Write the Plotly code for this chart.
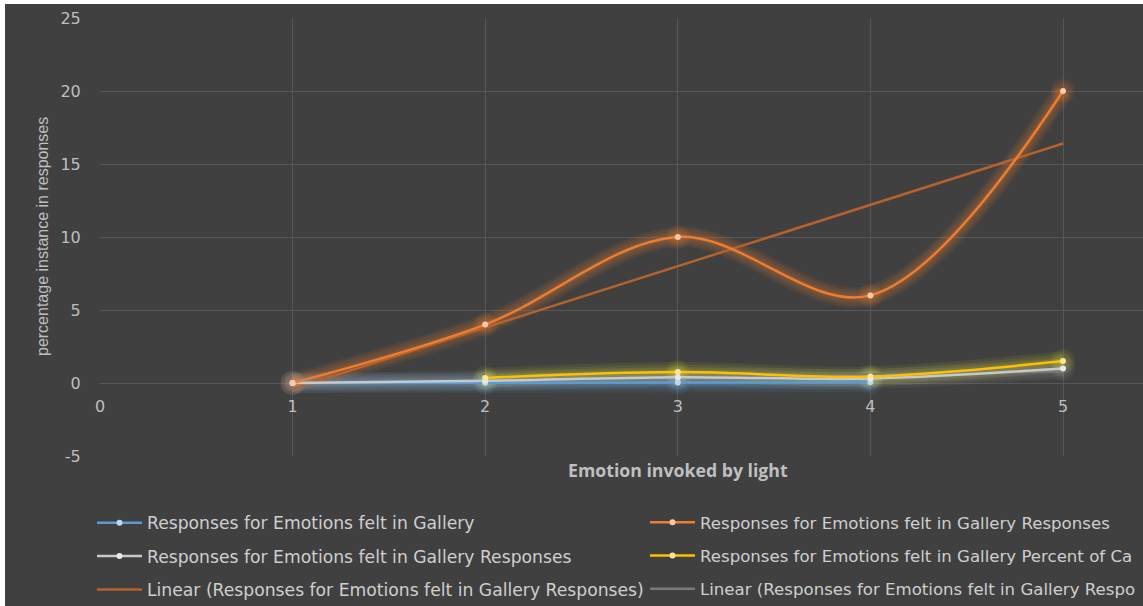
import numpy as np
import plotly.graph_objects as go

# ---- data -------------------------------------------------------------
x_all = [1, 2, 3, 4, 5]
x_blue = [1, 2, 3, 4]
x_yellow = [2, 3, 4, 5]

gallery = [0.0, 0.02, 0.03, 0.05]                 # Responses for Emotions felt in Gallery
gallery_responses = [0, 4, 10, 6, 20]              # ... Gallery Responses (orange)
gallery_responses_b = [0.0, 0.15, 0.4, 0.3, 1.0]   # ... Gallery Responses (grey)
gallery_percent = [0.35, 0.75, 0.45, 1.5]          # ... Gallery Percent of Ca...

x_ticks = [0, 1, 2, 3, 4, 5]
y_ticks = [-5, 0, 5, 10, 15, 20, 25]

# legend labels (the right-hand column runs off the edge of the chart)
names = [
    "Responses for Emotions felt in Gallery",
    "Responses for Emotions felt in Gallery Responses",
    "Responses for Emotions felt in Gallery Responses",
    "Responses for Emotions felt in Gallery Percent of Ca",
    "Linear (Responses for Emotions felt in Gallery Responses)",
    "Linear (Responses for Emotions felt in Gallery Respo",
]

# ---- styling ------------------------------------------------------------
BG = "#404040"
GRID = "#575757"
TXT = "#bfbfbf"
LEG = "#cfcfcf"
FONT = "Open Sans"
WIDE = "DejaVu Sans"

BLUE = (91, 155, 213)
ORANGE = (237, 125, 49)
GREY = (200, 200, 200)
YELLOW = (255, 192, 0)
ORANGE_TR = "#b5622d"
GREY_TR = "#7a7a7a"


def rgba(c, a):
    return f"rgba({c[0]},{c[1]},{c[2]},{a})"


def tint(c, f):
    return rgba(tuple(int(v + (255 - v) * f) for v in c), 1)


fig = go.Figure()


def glow(x, y, col, glow_col=None, strength=0.1):
    gc = glow_col or col
    for w in (20, 15, 10, 6):
        fig.add_trace(go.Scatter(
            x=x, y=y, mode="lines", line=dict(color=rgba(gc, strength), width=w, shape="spline", smoothing=1),
            showlegend=False, hoverinfo="skip"))
    for s in (24, 18, 13):
        fig.add_trace(go.Scatter(
            x=x, y=y, mode="markers", marker=dict(color=rgba(gc, strength), size=s, line=dict(width=0)),
            showlegend=False, hoverinfo="skip"))


def series(x, y, col, name, legend, rank):
    fig.add_trace(go.Scatter(
        x=x, y=y, name=name, mode="lines+markers", legend=legend, legendgroup=f"{legend}-{rank}",
        legendrank=rank,
        line=dict(color=rgba(col, 1), width=2.5, shape="spline", smoothing=1),
        marker=dict(color=tint(col, 0.6), size=6, line=dict(width=0)),
    ))


def trend(x, y, col, name, legend, rank):
    k, b = np.polyfit(np.array(x, float), np.array(y, float), 1)
    xs = np.array([x[0], x[-1]], float)
    fig.add_trace(go.Scatter(
        x=xs, y=k * xs + b, name=name, mode="lines", legend=legend, legendgroup=f"{legend}-{rank}",
        legendrank=rank,
        line=dict(color=col, width=2.5),
    ))


# glows underneath everything
glow(x_blue, gallery, BLUE)
glow(x_all, gallery_responses_b, GREY, strength=0.07)
glow(x_yellow, gallery_percent, YELLOW, glow_col=(210, 210, 40), strength=0.09)
glow(x_all, gallery_responses, ORANGE, strength=0.1)

# trend lines
trend(x_all, gallery_responses, ORANGE_TR, names[4], "legend", 3)
trend(x_all, gallery_responses_b, GREY_TR, names[5], "legend2", 3)

# series
series(x_blue, gallery, BLUE, names[0], "legend", 1)
series(x_all, gallery_responses_b, GREY, names[2], "legend", 2)
series(x_yellow, gallery_percent, YELLOW, names[3], "legend2", 2)
series(x_all, gallery_responses, ORANGE, names[1], "legend2", 1)

W, H = 1143, 606
L, T, B = 100, 18, 150
PW, PH = W - L, H - T - B
X_PER_PX = 5 / 963.0

legend_common = dict(
    orientation="v", bgcolor="rgba(0,0,0,0)",
    itemwidth=45, xanchor="left", yanchor="top", yref="container",
    traceorder="grouped",
)

fig.update_layout(
    width=W, height=H,
    margin=dict(l=L, r=0, t=T, b=B),
    paper_bgcolor="white",
    plot_bgcolor="rgba(0,0,0,0)",
    font=dict(family=FONT, color=TXT),
    xaxis=dict(
        range=[0, PW * X_PER_PX], tickvals=x_ticks, ticktext=[str(v) for v in x_ticks],
        showgrid=True, gridcolor=GRID, gridwidth=1,
        zeroline=False, showline=False, anchor="free", position=5 / 30,
        ticks="outside", ticklen=9, tickcolor="rgba(0,0,0,0)",
        tickfont=dict(family=WIDE, size=16, color=TXT),
    ),
    yaxis=dict(
        range=[-5, 25], tickvals=y_ticks, ticktext=[str(v) for v in y_ticks],
        showgrid=True, gridcolor=GRID, gridwidth=1,
        zeroline=False, showline=False,
        ticks="outside", ticklen=15, tickcolor="rgba(0,0,0,0)",
        tickfont=dict(family=WIDE, size=16, color=TXT),
    ),
    legend=dict(**legend_common, x=-8 / PW, y=1 - 505 / H, tracegroupgap=8,
                font=dict(family=WIDE, size=17.2, color=LEG)),
    legend2=dict(**legend_common, x=545 / PW, y=1 - 505 / H, tracegroupgap=8.6,
                 font=dict(family=WIDE, size=16.6, color=LEG)),
    shapes=[dict(type="rect", xref="paper", yref="paper", layer="below",
                 x0=-95 / PW, x1=1.02, y0=-(B + 2) / PH, y1=1 + (T - 4) / PH,
                 fillcolor=BG, line=dict(width=0))],
    annotations=[
        dict(text="percentage instance in responses", xref="paper", yref="paper",
             x=-58 / PW, y=0.5, xanchor="center", yanchor="middle", textangle=-90, showarrow=False,
             font=dict(family="Liberation Sans", size=16, color=TXT)),
        dict(text="<b>Emotion invoked by light</b>", xref="x", yref="paper",
             x=3, y=-(470 - 456) / PH, xanchor="center", yanchor="middle", showarrow=False,
             font=dict(family=FONT, size=17.7, color=TXT)),
    ],
)

fig.write_html("out.html")
